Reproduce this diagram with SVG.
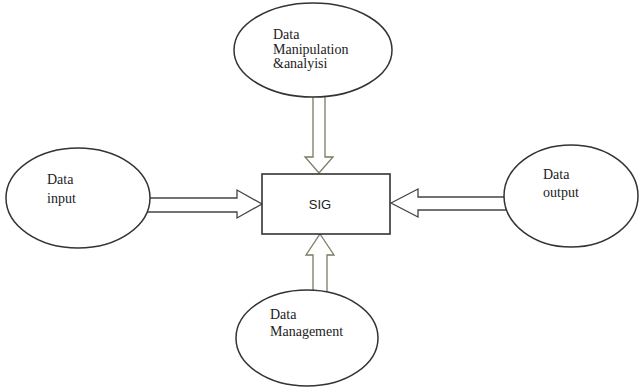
<svg xmlns="http://www.w3.org/2000/svg" width="639" height="389" viewBox="0 0 639 389">
<style>
.ell{fill:#fff;stroke:#333;stroke-width:1.5}
.box{fill:#fff;stroke:#333;stroke-width:1.6}
.arr{fill:#fff;stroke:#444;stroke-width:1.3;stroke-linejoin:miter}
.arrv{fill:#fff;stroke:#7a7a66;stroke-width:1.3;stroke-linejoin:miter}
.t{font-family:"Liberation Serif","Times New Roman",serif;font-size:14px;fill:#222}
.s{font-family:"Liberation Sans",Arial,sans-serif;font-size:13px;fill:#222}
</style>
<rect width="639" height="389" fill="#fff"/>
<g id="connectors">
<polygon class="arr" points="140,198 237,198 237,190 262,204 237,218 237,212 140,212"/>
<polygon class="arr" points="391,203 418,189 418,197 515,197 515,210 418,210 418,217"/>
<polygon class="arrv" points="313,90 325,90 325,157 333,157 319,173 305,157 313,157"/>
<polygon class="arrv" points="320,234 334,255 327,255 327,298 313,298 313,255 306,255"/>
</g>
<g id="sig">
<rect class="box" x="262" y="174" width="128" height="60"/>
<text class="s" x="320" y="209" text-anchor="middle">SIG</text>
</g>
<g id="manipulation">
<ellipse class="ell" cx="313" cy="50" rx="79" ry="47"/>
<text class="t" x="273" y="39">Data</text>
<text class="t" x="273" y="54">Manipulation</text>
<text class="t" x="273" y="68">&amp;analyisi</text>
</g>
<g id="input">
<ellipse class="ell" cx="78" cy="198" rx="72" ry="50"/>
<text class="t" x="47" y="184">Data</text>
<text class="t" x="47" y="203">input</text>
</g>
<g id="output">
<ellipse class="ell" cx="571" cy="196" rx="67" ry="51"/>
<text class="t" x="543" y="179">Data</text>
<text class="t" x="543" y="197">output</text>
</g>
<g id="management">
<ellipse class="ell" cx="307" cy="338" rx="71" ry="48"/>
<text class="t" x="270" y="319">Data</text>
<text class="t" x="270" y="336">Management</text>
</g>
</svg>
